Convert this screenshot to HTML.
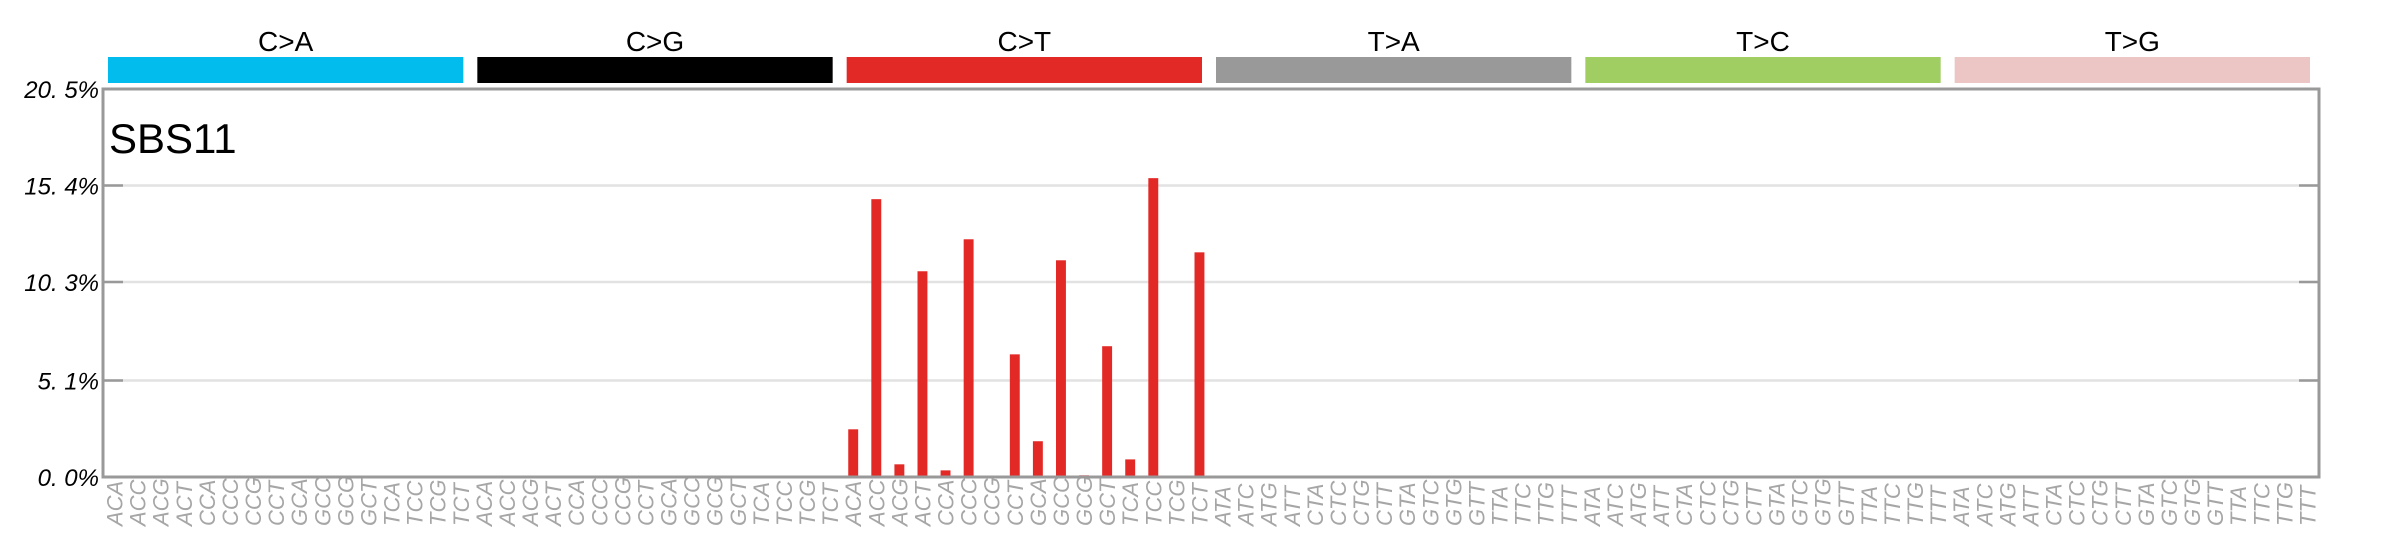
<!DOCTYPE html>
<html><head><meta charset="utf-8"><style>
html,body{margin:0;padding:0;background:#fff;}
svg{display:block;font-family:"Liberation Sans",sans-serif;}
</style></head><body>
<svg id="chart" width="2400" height="550" viewBox="0 0 2400 550" xmlns="http://www.w3.org/2000/svg"></svg>
<script>
const groups = ["C>A","C>G","C>T","T>A","T>C","T>G"];
const groupColors = ["#03BCEE","#000000","#E32926","#999999","#A1CE63","#EBC6C4"];
const ctxC = ["ACA","ACC","ACG","ACT","CCA","CCC","CCG","CCT","GCA","GCC","GCG","GCT","TCA","TCC","TCG","TCT"];
const ctxT = ["ATA","ATC","ATG","ATT","CTA","CTC","CTG","CTT","GTA","GTC","GTG","GTT","TTA","TTC","TTG","TTT"];
const valCA = [0.05,0,0.05,0.05,0,0,0.05,0.05,0.05,0,0.05,0.02,0.05,0,0.02,0.05];
const valCG = [0.03,0,0,0,0,0,0,0,0,0,0,0,0,0,0,0];
const valCT = [2.52,14.68,0.67,10.87,0.35,12.56,0,6.48,1.89,11.45,0.09,6.91,0.93,15.79,0.02,11.87];
const valTA = [0,0,0,0,0,0,0,0,0,0,0,0,0,0,0,0];
const valTC = [0,0,0,0,0,0,0,0,0,0,0,0,0,0,0,0];
const valTG = [0,0,0,0,0,0,0,0,0,0,0,0,0,0,0,0];
const yTicks = [0,5.1,10.3,15.4,20.5];
const yTickLabels = ["0. 0%","5. 1%","10. 3%","15. 4%","20. 5%"];
const yMax = 20.5;
const title = "SBS11";

const svg = document.getElementById('chart');
const NS = "http://www.w3.org/2000/svg";
const L=103, R=2319, T=89, B=477;
const slot=(R-L)/96;
const x = i => L + i*slot;
const y = v => B - (v/yMax)*(B-T);
function mk(tag, attrs){const e=document.createElementNS(NS,tag);for(const k in attrs)e.setAttribute(k,attrs[k]);svg.appendChild(e);return e;}

yTicks.forEach((t,i)=>{
  if(i>0 && i<yTicks.length-1){
    const g=mk('line',{x1:L,x2:R,y1:y(t),y2:y(t),stroke:'#e2e2e2','stroke-width':2.5});
    
    
    const tl=mk('line',{x1:L,x2:L+20,y1:y(t),y2:y(t),stroke:'#999','stroke-width':2.5});
    
    
    const tr=mk('line',{x1:R-20,x2:R,y1:y(t),y2:y(t),stroke:'#999','stroke-width':2.5});
    
    
  }
  const lb=mk('text',{x:L-4,y:y(t)+9,'text-anchor':'end','font-size':24,'font-style':'italic',fill:'#000'});
  lb.textContent=yTickLabels[i];
  
  
});

groups.forEach((g,gi)=>{
  const x0=x(gi*16)+5, x1=x(gi*16+16)-9;
  const r=mk('rect',{x:x0,y:57,width:x1-x0,height:26,fill:groupColors[gi]});
  
  
  const t=mk('text',{x:(x0+x1)/2,y:51,'text-anchor':'middle','font-size':28,fill:'#000'});
  t.textContent=g;
  
  
});

const allVals=[valCA,valCG,valCT,valTA,valTC,valTG];
allVals.forEach((arr,gi)=>{
  const ctx = gi<3?ctxC:ctxT;
  arr.forEach((v,j)=>{
    const i=gi*16+j;
    const cx=x(i)+slot/2;
    const bw=slot*0.43;
    if(v>0){
      const b=mk('rect',{x:cx-bw/2,y:y(v),width:bw,height:B-y(v),fill:groupColors[gi]});
      
      
    }
    const lt=mk('text',{x:0,y:0,transform:`translate(${cx+8},${B+49}) rotate(-90)`,'font-size':22,'font-style':'italic',fill:'#a6a6a6'});
    lt.textContent=ctx[j];
    
    
  });
});

const f=mk('rect',{x:L,y:T,width:R-L,height:B-T,fill:'none',stroke:'#999','stroke-width':3});



const st=mk('text',{x:109,y:153,'font-size':42,fill:'#000'});
st.textContent=title;


</script>
</body></html>
